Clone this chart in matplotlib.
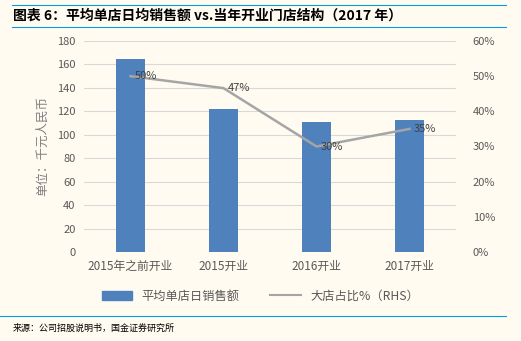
import matplotlib
matplotlib.use("Agg")
import matplotlib.pyplot as plt
from matplotlib.lines import Line2D
import numpy as np

plt.rcParams['font.family'] = ['Noto Sans CJK SC', 'DejaVu Sans']

categories = ["2015年之前开业", "2015开业", "2016开业", "2017开业"]
sales = [165, 122, 111, 113]
big_share = [0.50, 0.466, 0.30, 0.35]
left_ticks = [0, 20, 40, 60, 80, 100, 120, 140, 160, 180]
right_ticks = [0, 0.1, 0.2, 0.3, 0.4, 0.5, 0.6]

bg = "#FFFBF0"
fig = plt.figure(figsize=(5.21, 3.41), dpi=100, facecolor=bg)
W, H = 521, 341
ax = fig.add_axes([84 / W, 1 - 252 / H, (456 - 84) / W, (252 - 41) / H])
ax.set_facecolor(bg)
x = np.arange(len(categories))
ax.bar(x, sales, width=0.31, color="#4F81BD", zorder=2)
ax.set_xlim(-0.5, len(categories) - 0.5)
ax.set_ylim(0, 180)
ax.set_yticks(left_ticks)
ax.grid(axis='y', color="#D9D9D9", linewidth=0.8, zorder=0)
for s in ax.spines.values():
    s.set_visible(False)
ax.tick_params(axis='both', length=0, labelsize=8, colors="#595959", pad=6)
ax.set_xticks(x)
ax.set_xticklabels(categories, fontsize=8.5, color="#595959")
ax.set_ylabel("单位：千元人民币", fontsize=9, color="#7F7F7F", labelpad=6)

ax2 = ax.twinx()
ax2.plot(x, big_share, color="#A5A5A5", linewidth=1.8, zorder=3)
ax2.set_ylim(0, 0.6)
ax2.set_yticks(right_ticks)
ax2.set_yticklabels([f"{int(round(t*100))}%" for t in right_ticks])
for s in ax2.spines.values():
    s.set_visible(False)
ax2.tick_params(axis='y', length=0, labelsize=8, colors="#595959", pad=12)
for xi, v in zip(x, big_share):
    ax2.annotate(f"{v*100:.0f}%", (xi, v), xytext=(3, 0), textcoords="offset points",
                 ha='left', va='center', fontsize=8, color="#404040")

# legend
handles = [plt.Rectangle((0, 0), 1, 1, color="#4F81BD"),
           Line2D([0], [0], color="#A5A5A5", linewidth=1.5)]
fig.legend(handles, ["平均单店日销售额", "大店占比%（RHS）"], loc='center',
           bbox_to_anchor=(0.5, 1 - 296 / H), ncol=2, frameon=False,
           fontsize=8.8, labelcolor="#595959", handlelength=2.5, columnspacing=2.5)

# header / footer lines
blue = "#00A0E0"
fig.add_artist(Line2D([12 / W, 506 / W], [1 - 5 / H, 1 - 5 / H], color=blue, linewidth=0.8))
fig.add_artist(Line2D([12 / W, 506 / W], [1 - 27 / H, 1 - 27 / H], color=blue, linewidth=0.8))
fig.add_artist(Line2D([0, 506 / W], [1 - 316 / H, 1 - 316 / H], color=blue, linewidth=0.8))
fig.text(13 / W, 1 - 16 / H, "图表 6：平均单店日均销售额 vs.当年开业门店结构（2017 年）",
         fontsize=10, fontweight='bold', fontstyle='italic', va='center', ha='left', color="#000000")
fig.text(13 / W, 1 - 328 / H, "来源：公司招股说明书，国金证券研究所",
         fontsize=6.5, va='center', ha='left', color="#000000")

fig.savefig("out.png", dpi=100, facecolor=bg)
